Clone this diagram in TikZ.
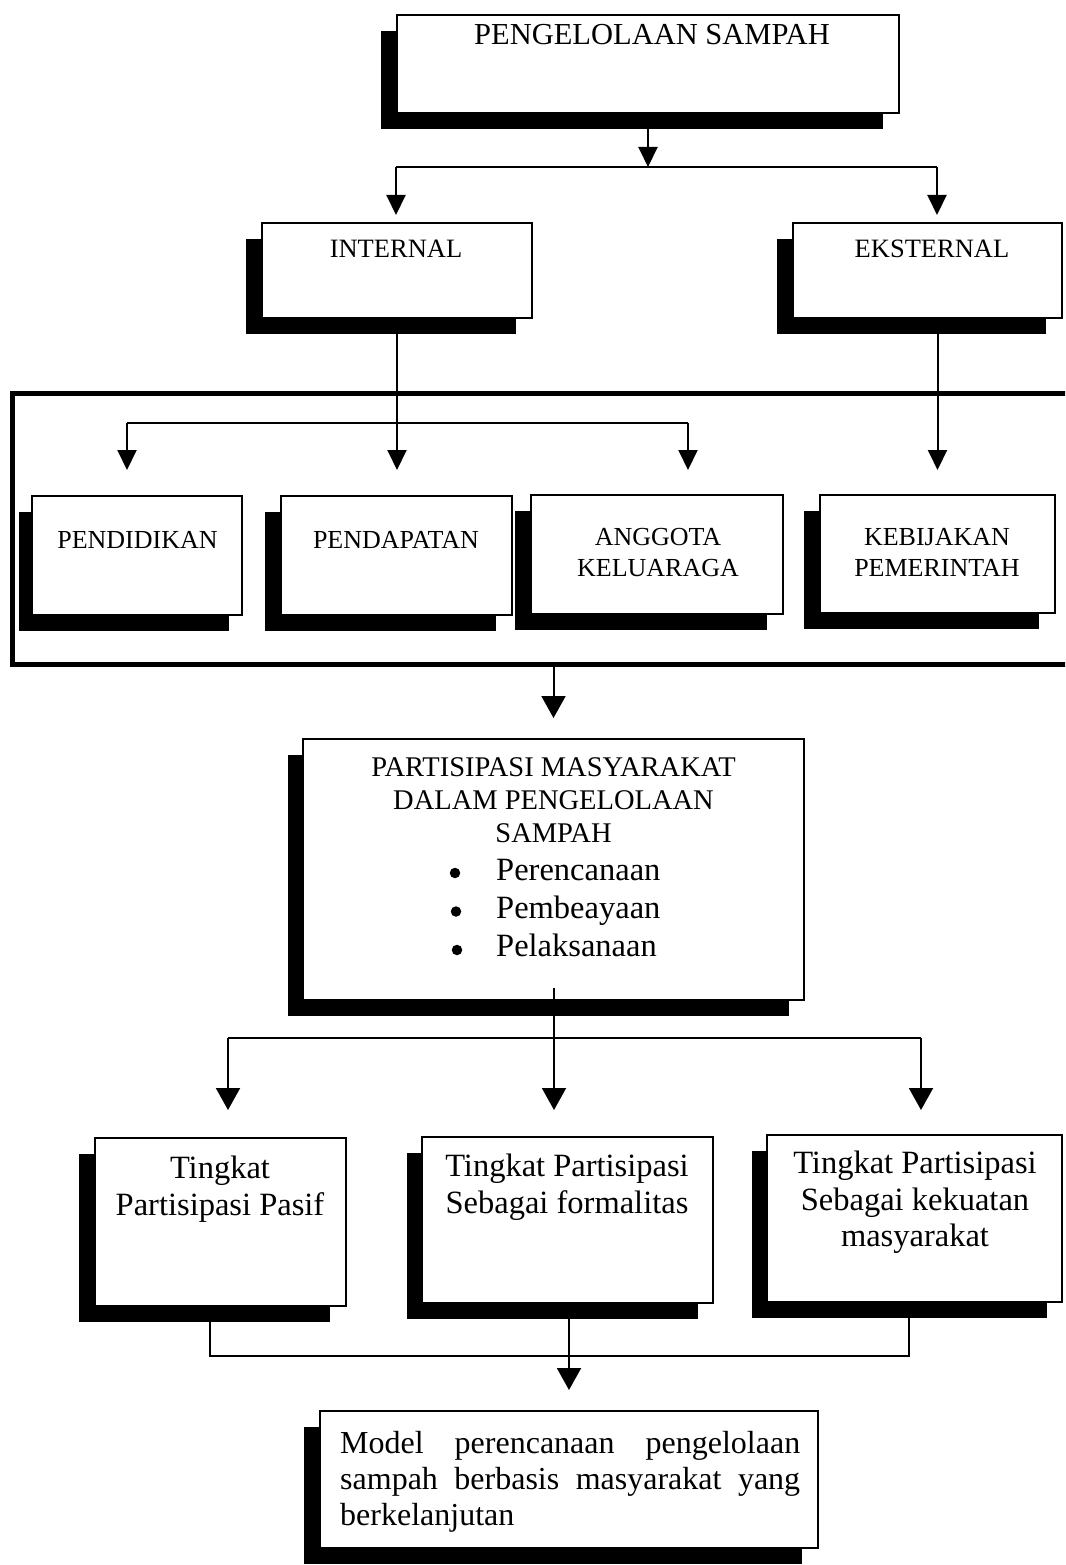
\documentclass[tikz,border=0pt]{standalone}
\usepackage{fontspec}
\setmainfont{Liberation Serif}
\usetikzlibrary{arrows.meta,shadows}
\newcommand\myfs[2]{\fontsize{#1}{#2}\selectfont}
\begin{document}
\begin{tikzpicture}[x=1pt,y=-1pt,
  box/.style={draw, fill=white, line width=2pt, inner sep=0pt, outer sep=0pt},
  shd/.style={drop shadow={shadow xshift=-#1pt, shadow yshift=-16pt, fill=black, opacity=1}},
  shd/.default=16,
  frame/.style={draw, line width=5pt, inner sep=0pt, outer sep=0pt},
  conn/.style={line width=2pt},
  arrA/.style={line width=2pt, -{Triangle[width=19pt,length=20pt]}},
  arrB/.style={line width=2pt, -{Triangle[width=24pt,length=22pt]}},
  lbl/.style={anchor=base, inner sep=0pt, align=center},
  dot/.style={circle, fill=black, inner sep=0pt, minimum size=10.5pt},
]
\clip (0,0) rectangle (1065,1565);
\fill[white] (0,0) rectangle (1065,1565);

% group frame
\node[frame, minimum width=1068, minimum height=271] (grp) at (546,528.5) {};

% boxes
\node[box, shd, minimum width=502, minimum height=98] (top) at (648,64) {};
\node[box, shd, minimum width=270, minimum height=95] (internal) at (397,270.5) {};
\node[box, shd, minimum width=269, minimum height=95] (ekst) at (927.5,270.5) {};
\node[box, shd=13, minimum width=210, minimum height=119] (pendidikan) at (137,555.5) {};
\node[box, shd, minimum width=231, minimum height=119] (pendapatan) at (396.5,555.5) {};
\node[box, shd, minimum width=252, minimum height=119] (anggota) at (657,554.5) {};
\node[box, shd, minimum width=235, minimum height=118] (kebijakan) at (937.5,554) {};
\node[box, shd=15, minimum width=501, minimum height=261] (partisipasi) at (553.5,869.5) {};
\node[box, shd, minimum width=251, minimum height=168] (b1) at (220.5,1222) {};
\node[box, shd=15, minimum width=291, minimum height=166] (b2) at (567.5,1220) {};
\node[box, shd=15, minimum width=295, minimum height=167] (b3) at (914.5,1218.5) {};
\node[box, shd, minimum width=498, minimum height=137] (final) at (569,1479.5) {};

% texts (anchor base = baseline of the last line for multi-line nodes)
\node[lbl, font=\myfs{30.5}{36}] (t0) at (652,45) {PENGELOLAAN SAMPAH};
\node[lbl, font=\myfs{26.5}{31}] (t1) at (396,257) {INTERNAL};
\node[lbl, font=\myfs{26.5}{31}] (t2) at (932,257) {EKSTERNAL};
\node[lbl, font=\myfs{26}{30.3}] (t3) at (137.5,548) {PENDIDIKAN};
\node[lbl, font=\myfs{26}{30.3}] (t4) at (396,548) {PENDAPATAN};
\node[lbl, font=\myfs{26}{30.3}] (t5) at (658,576) {ANGGOTA\\KELUARAGA};
\node[lbl, font=\myfs{26}{30.3}] (t6) at (937,576) {KEBIJAKAN\\PEMERINTAH};
\node[lbl, font=\myfs{28.5}{33.4}] (t7) at (553.5,842.8) {PARTISIPASI MASYARAKAT\\DALAM PENGELOLAAN\\SAMPAH};
\node[dot] (d1) at (455,873) {};
\node[dot] (d2) at (456,911.5) {};
\node[dot] (d3) at (457,950) {};
\node[anchor=base west, inner sep=0pt, align=left, font=\myfs{32.5}{38.3}] (t8) at (496,956.6)
  {Perencanaan\\Pembeayaan\\Pelaksanaan};
\node[lbl, font=\myfs{32.5}{36.7}] (t9) at (220,1215) {Tingkat\\Partisipasi Pasif};
\node[lbl, font=\myfs{32.5}{36.7}] (t10) at (567,1213.4) {Tingkat Partisipasi\\Sebagai formalitas};
\node[lbl, font=\myfs{32.5}{36.7}] (t11) at (915,1246.7) {Tingkat Partisipasi\\Sebagai kekuatan\\masyarakat};
\node[anchor=base west, inner sep=0pt, text width=460pt, align=justify, font=\myfs{32}{36}] (t12) at (340,1453)
  {Model perencanaan pengelolaan sampah berbasis masyarakat yang berkelanjutan};

% connectors: top level
\coordinate (j0) at (648,167);
\coordinate (jL) at (396,167);
\coordinate (jR) at (937,167);
\draw[arrA] (top.south) -- (j0);
\draw[conn] (jL) -- (jR);
\draw[arrA, shorten >=8pt] (jL) -- (jL |- internal.north);
\draw[arrA, shorten >=8pt] (jR) -- (jR |- ekst.north);

% internal branch
\coordinate (bL) at (127,423);
\coordinate (bR) at (688,423);
\draw[arrA, shorten >=26pt] (internal.south) -- (internal.south |- pendapatan.north);
\draw[conn] (bL) -- (bR);
\draw[arrA, shorten >=26pt] (bL) -- (bL |- pendidikan.north);
\draw[arrA, shorten >=25pt] (bR) -- (bR |- anggota.north);
\draw[arrA, shorten >=25pt] (kebijakan.north |- ekst.south) -- (kebijakan.north);

% to partisipasi
\draw[arrB, shorten >=21pt] (partisipasi.north |- grp.south) -- (partisipasi.north);

% partisipasi branches
\coordinate (jM) at (554,1038);
\coordinate (m1) at (228,1038);
\coordinate (m3) at (921,1038);
\draw[conn] ([yshift=12pt]partisipasi.south -| jM) -- (jM);
\draw[conn] (m1) -- (m3);
\draw[arrB, shorten >=28pt] (m1) -- (m1 |- b1.north);
\draw[arrB, shorten >=27pt] (jM) -- (jM |- b2.north);
\draw[arrB, shorten >=25pt] (m3) -- (m3 |- b3.north);

% bottom merge
\coordinate (n1) at (210,1356);
\coordinate (n3) at (909,1356);
\draw[conn] (b1.south -| n1) -- (n1) -- (n3) -- (b3.south -| n3);
\draw[arrB, shorten >=21pt] (final.north |- b2.south) -- (final.north);
\end{tikzpicture}
\end{document}
